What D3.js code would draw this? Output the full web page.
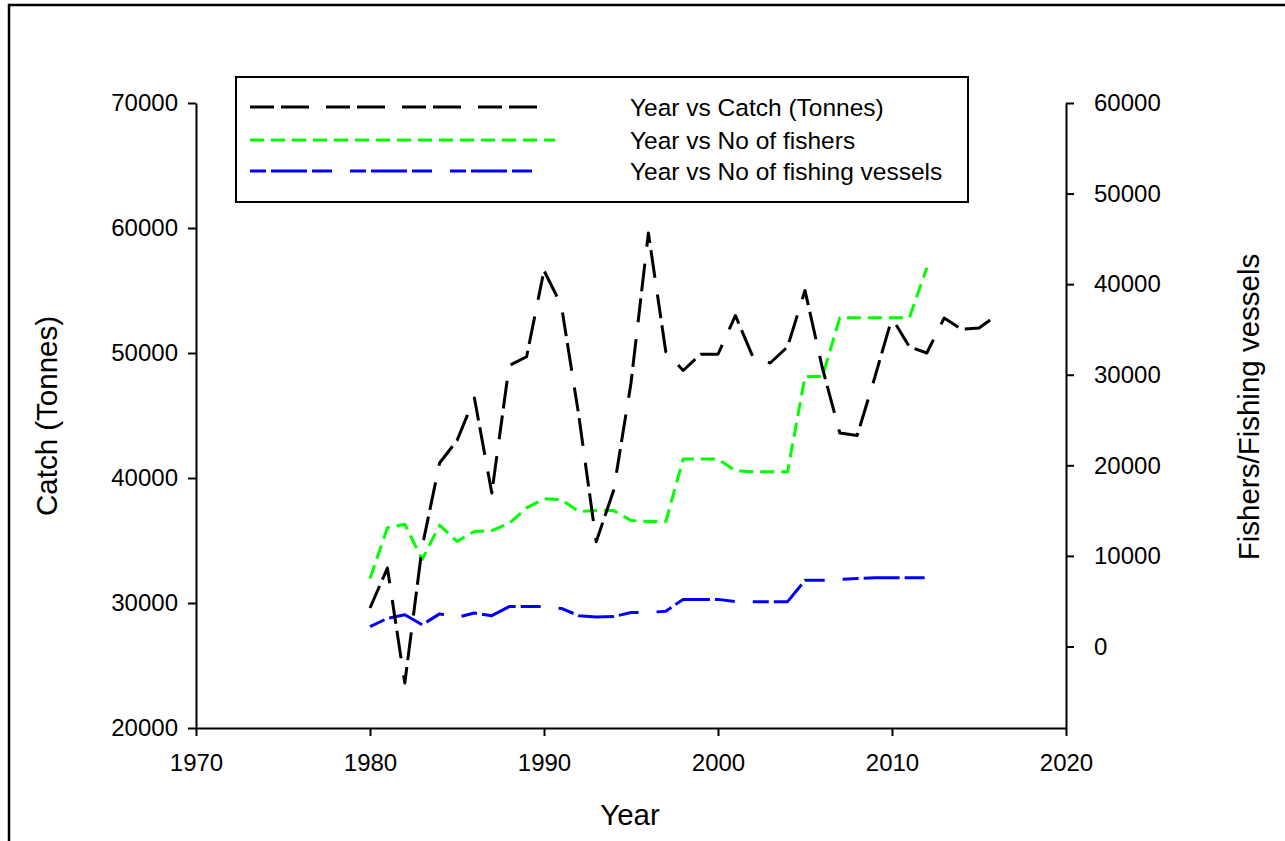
<!DOCTYPE html>
<html>
<head>
<meta charset="utf-8">
<script src="https://cdn.jsdelivr.net/npm/d3@7"></script>
<style>
  body { margin: 0; background: #fff; }
  svg { display: block; font-family: "Liberation Sans", Arial, sans-serif; }
</style>
</head>
<body>
<svg id="chart" width="1285" height="841"></svg>
<script>
const years = [1980,1981,1982,1983,1984,1985,1986,1987,1988,1989,1990,1991,1992,1993,1994,1995,1996,1997,1998,1999,2000,2001,2002,2003,2004,2005,2006,2007,2008,2009,2010,2011,2012,2013,2014,2015,2016];
const catchTonnes = [29600,32800,23600,34500,41200,43000,46400,38800,49000,49700,56600,53800,45000,34900,39000,47600,59600,50100,48600,49900,49900,53000,49700,49200,50500,55000,48800,43600,43400,48000,52800,50500,50000,52800,51900,52000,53000];
const fishers = [7500,13100,13500,9600,13400,11600,12700,12800,13600,15300,16300,16200,14900,15000,15000,13900,13800,13800,20700,20700,20700,19400,19300,19300,19300,29800,29800,36300,36300,36300,36300,36300,41800];
const vessels = [2200,3100,3500,2400,3600,3200,3700,3400,4400,4400,4400,4200,3400,3250,3300,3750,3750,3900,5200,5200,5200,4950,4950,4950,4950,7300,7300,7400,7500,7600,7600,7600,7600];

const xTicks = [1970,1980,1990,2000,2010,2020];
const yLeftTicks = [20000,30000,40000,50000,60000,70000];
const yRightTicks = [0,10000,20000,30000,40000,50000,60000];
const seriesNames = ["Year vs Catch (Tonnes)","Year vs No of fishers","Year vs No of fishing vessels"];
const seriesColors = ["#000000","#00ff00","#0000ff"];
const seriesDash = ["24,7,28,17","14,7","16,5,36,5,20,18"];

const svg = d3.select("#chart");

// outer frame
svg.append("path").attr("d","M1290,5 H9 V850")
  .attr("fill","none").attr("stroke","#000").attr("stroke-width",2.5);

const x = d3.scaleLinear().domain([1970,2020]).range([196,1066]);
const yL = d3.scaleLinear().domain([20000,70000]).range([728,103]);
const yR = d3.scaleLinear().domain([-9000,60000]).range([728,103]);

const fmt = d3.format("d");

function styleAxis(g){
  g.selectAll("path.domain").attr("stroke","#000").attr("stroke-width",2);
  g.selectAll(".tick line").attr("stroke","#000").attr("stroke-width",2);
  g.selectAll(".tick text").attr("fill","#000").style("font-size","24px")
    .style("font-family","'Liberation Sans', Arial, sans-serif");
}

svg.append("g").attr("transform","translate(0,728)")
  .call(d3.axisBottom(x).tickValues(xTicks).tickFormat(fmt).tickSize(8).tickSizeOuter(0).tickPadding(18))
  .call(styleAxis);

svg.append("g").attr("transform","translate(196,0)")
  .call(d3.axisLeft(yL).tickValues(yLeftTicks).tickFormat(fmt).tickSize(8).tickSizeOuter(0).tickPadding(10))
  .call(styleAxis);

svg.append("g").attr("transform","translate(1066,0)")
  .call(d3.axisRight(yR).tickValues(yRightTicks).tickFormat(fmt).tickSize(8).tickSizeOuter(0).tickPadding(20))
  .call(styleAxis);

// lines
const catchData = years.map((y,i)=>({x:y, v:catchTonnes[i]}));
const fisherData = fishers.map((v,i)=>({x:years[i], v}));
const vesselData = vessels.map((v,i)=>({x:years[i], v}));

const lineL = d3.line().x(d=>x(d.x)).y(d=>yL(d.v));
const lineR = d3.line().x(d=>x(d.x)).y(d=>yR(d.v));

[[vesselData,lineR,2],[fisherData,lineR,1],[catchData,lineL,0]].forEach(([data,gen,k])=>{
  svg.append("path").datum(data).attr("d",gen)
    .attr("fill","none").attr("stroke",seriesColors[k]).attr("stroke-width",3)
    .attr("stroke-dasharray",seriesDash[k]).attr("stroke-linejoin","round");
});

// axis titles
svg.append("text").attr("x",630).attr("y",825).attr("text-anchor","middle")
  .style("font-size","29.5px").text("Year");
svg.append("text").attr("transform","translate(57,416) rotate(-90)").attr("text-anchor","middle")
  .style("font-size","29.5px").text("Catch (Tonnes)");
svg.append("text").attr("transform","translate(1259,407) rotate(-90)").attr("text-anchor","middle")
  .style("font-size","29.5px").text("Fishers/Fishing vessels");

// legend
const leg = svg.append("g");
leg.append("rect").attr("x",236).attr("y",77).attr("width",732).attr("height",125)
  .attr("fill","#fff").attr("stroke","#000").attr("stroke-width",2);
const legY = [107,140,171];
const legEnd = [540,555,538];
seriesNames.forEach((n,i)=>{
  leg.append("line").attr("x1",250).attr("x2",legEnd[i]).attr("y1",legY[i]).attr("y2",legY[i])
    .attr("stroke",seriesColors[i]).attr("stroke-width",3).attr("stroke-dasharray",seriesDash[i]);
  leg.append("text").attr("x",630).attr("y",legY[i]).attr("dy","0.35em")
    .style("font-size","24.5px").text(n);
});
</script>
</body>
</html>
